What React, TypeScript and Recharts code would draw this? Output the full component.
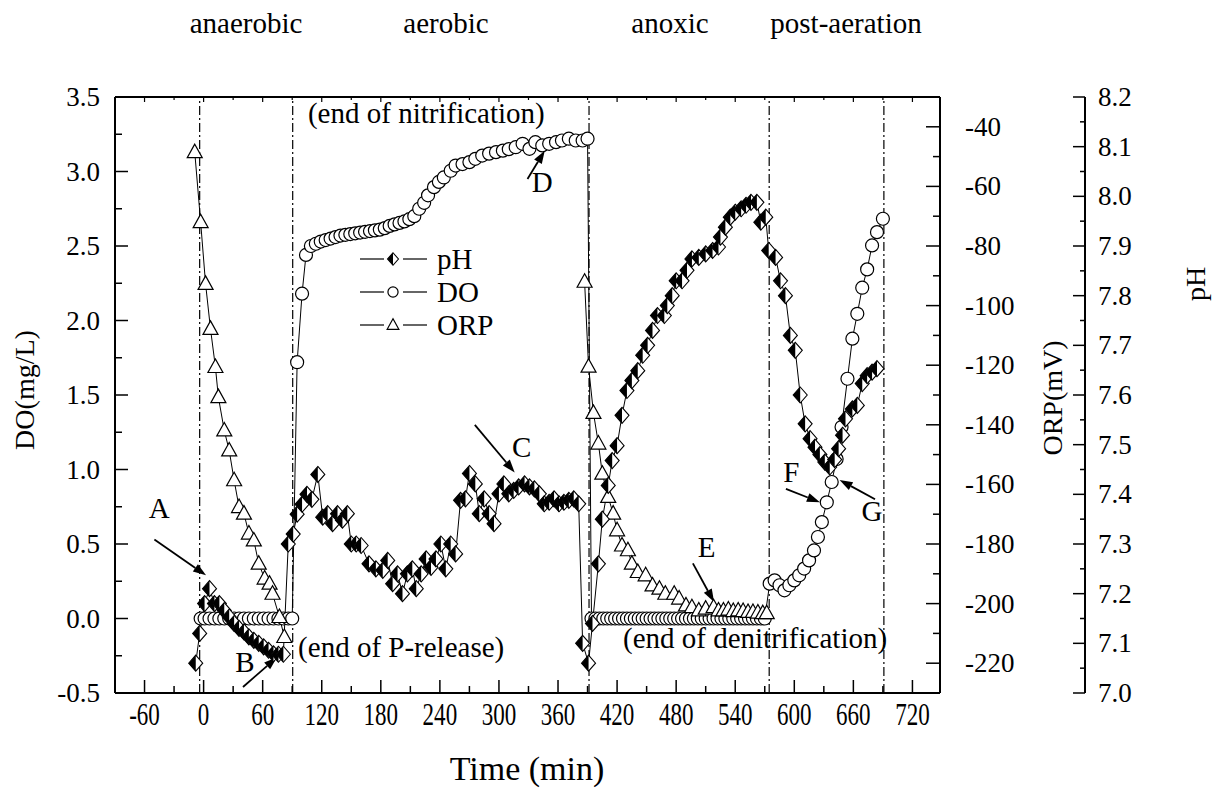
import React from 'react';
import { LineChart, Line, XAxis, YAxis, ReferenceLine, ReferenceDot } from 'recharts';

const SERIF = "'Liberation Serif', 'Times New Roman', Times, serif";

// ---------- data (time in min) ----------
const phaseNames = ['anaerobic', 'aerobic', 'anoxic', 'post-aeration'];
const phaseBoundaries = [-4, 90.5, 391.5, 574.5, 691];

const doSeries: [number, number][] = [
  [-3, 0], [1, 0], [6, 0], [11, 0], [16, 0], [21, 0], [26, 0], [31, 0], [36, 0], [41, 0],
  [46, 0], [51, 0], [56, 0], [61, 0], [66, 0], [71, 0], [76, 0], [81, 0], [86, 0], [90, 0],
  [95, 1.72], [100, 2.18], [104, 2.44], [109, 2.5], [114, 2.515], [119, 2.53], [124, 2.54],
  [129, 2.55], [134, 2.56], [139, 2.57], [144, 2.575], [149, 2.58], [154, 2.585], [159, 2.59],
  [164, 2.595], [169, 2.6], [174, 2.605], [179, 2.61], [184, 2.62], [189, 2.635], [194, 2.645],
  [199, 2.655], [204, 2.665], [209, 2.68], [214, 2.7], [219, 2.75], [224, 2.79], [228, 2.84],
  [234, 2.895], [239, 2.93], [244, 2.96], [251, 3.005], [256, 3.04], [263, 3.05], [270, 3.063],
  [276, 3.085], [283, 3.107], [290, 3.12], [297, 3.13], [304, 3.14], [310, 3.15], [317, 3.163],
  [324, 3.186], [331, 3.152], [337, 3.197], [344, 3.175], [351, 3.186], [358, 3.197], [364, 3.208],
  [371, 3.22], [378, 3.208], [385, 3.208], [390, 3.22],
  [394, 0], [398, 0], [402, 0], [406, 0], [410, 0], [414, 0], [418, 0], [422, 0], [426, 0],
  [430, 0], [434, 0], [438, 0], [442, 0], [446, 0], [450, 0], [454, 0], [458, 0], [462, 0],
  [466, 0], [470, 0], [474, 0], [478, 0], [482, 0], [486, 0], [490, 0], [494, 0], [498, 0],
  [502, 0], [506, 0], [510, 0], [514, 0], [518, 0], [522, 0], [526, 0], [530, 0], [534, 0],
  [538, 0], [542, 0], [546, 0], [550, 0], [554, 0], [558, 0], [562, 0], [566, 0], [570, 0],
  [575, 0.234], [580, 0.256], [585, 0.223], [590, 0.189], [595, 0.223], [600, 0.256], [605, 0.29],
  [610, 0.335], [615, 0.39], [620, 0.457], [624, 0.547], [628, 0.647], [633, 0.78], [638, 0.916],
  [643, 1.07], [648, 1.285], [654, 1.609], [659, 1.878], [664, 2.045], [669, 2.22], [674, 2.343],
  [679, 2.504], [684, 2.593], [690, 2.683],
];

const orpSeries: [number, number | null][] = [
  [-9, -48.5], [-3, -72], [2, -92.7], [7, -107.8], [12, -120.6], [15, -130.7], [21, -141.9],
  [26, -148.6], [31, -158.6], [36, -167.6], [41, -169.8], [46, -176.5], [51, -178.8], [56, -186.6],
  [62, -191.6], [67, -193.3], [70, -196.7], [77, -204.5], [82, -211.2],
  [240, null],
  [387, -92], [391, -120.5], [396, -136], [401, -146.3], [405, -156.4], [411, -164.2], [416, -169.8],
  [420, -175.4], [425, -180.5], [431, -182.1], [435, -186.6], [441, -189.4], [449, -190.5],
  [456, -193.9], [463, -195], [469, -196.7], [478, -196.7], [483, -198.3], [490, -200.6],
  [496, -201.2], [503, -202.3], [510, -201.7], [518, -201.2], [523, -202.3], [528, -202.3],
  [533, -202], [538, -202.5], [543, -202.3], [548, -202.5], [553, -202.8], [558, -202.8],
  [563, -203], [568, -203.2], [572, -203.2],
];

const phSeries: [number, number][] = [
  [-8, 7.06], [-4, 7.12], [1, 7.18], [6, 7.21], [11, 7.18], [16, 7.18], [21, 7.166], [26, 7.153],
  [31, 7.14], [36, 7.13], [41, 7.123], [46, 7.113], [51, 7.106], [56, 7.1], [61, 7.093], [66, 7.086],
  [71, 7.079], [76, 7.078], [81, 7.078], [86, 7.3], [91, 7.32], [95, 7.36], [100, 7.38], [105, 7.4],
  [110, 7.39], [116, 7.44], [121, 7.354], [126, 7.361], [131, 7.341], [136, 7.361], [141, 7.348],
  [146, 7.361], [150, 7.3], [155, 7.3], [160, 7.297], [168, 7.26], [175, 7.25], [182, 7.247],
  [187, 7.267], [192, 7.22], [197, 7.24], [202, 7.2], [207, 7.24], [212, 7.25], [216, 7.21],
  [221, 7.24], [226, 7.27], [231, 7.253], [236, 7.27], [241, 7.3], [246, 7.25], [251, 7.3],
  [256, 7.28], [261, 7.388], [266, 7.391], [270, 7.442], [276, 7.421], [280, 7.361], [285, 7.391],
  [290, 7.361], [295, 7.341], [300, 7.401], [305, 7.421], [310, 7.401], [315, 7.408], [320, 7.415],
  [326, 7.421], [331, 7.415], [336, 7.411], [341, 7.401], [346, 7.381], [351, 7.384], [356, 7.391],
  [361, 7.381], [366, 7.384], [371, 7.388], [376, 7.391], [381, 7.381], [385, 7.1], [391, 7.06],
  [395, 7.14], [401, 7.26], [405, 7.35], [411, 7.418], [415, 7.468], [420, 7.498], [425, 7.559],
  [430, 7.609], [435, 7.629], [441, 7.649], [446, 7.68], [451, 7.7], [456, 7.73], [461, 7.76],
  [468, 7.76], [471, 7.78], [476, 7.8], [480, 7.83], [486, 7.83], [491, 7.851], [496, 7.874],
  [503, 7.877], [510, 7.884], [517, 7.891], [523, 7.898], [525, 7.918], [530, 7.938], [535, 7.958],
  [540, 7.968], [546, 7.975], [551, 7.982], [556, 7.988], [562, 7.988], [566, 7.948], [571, 7.958],
  [574, 7.891], [581, 7.877], [586, 7.83], [591, 7.8], [596, 7.72], [601, 7.69], [606, 7.6],
  [611, 7.542], [616, 7.512], [621, 7.495], [626, 7.48], [631, 7.465], [636, 7.455], [641, 7.47],
  [645, 7.492], [649, 7.519], [652, 7.552], [659, 7.572], [664, 7.579], [669, 7.623], [674, 7.639],
  [679, 7.646], [684, 7.653],
];

// ---------- ticks ----------
const xMajorTicks = [-60, 0, 60, 120, 180, 240, 300, 360, 420, 480, 540, 600, 660, 720];
const xTickLabels = ['-60', '0', '60', '120', '180', '240', '300', '360', '420', '480', '540', '600', '660', '720'];
const xMinorTicks = [-30, 30, 90, 150, 210, 270, 330, 390, 450, 510, 570, 630, 690];

const doMajorTicks = [-0.5, 0, 0.5, 1, 1.5, 2, 2.5, 3, 3.5];
const doTickLabels = ['-0.5', '0.0', '0.5', '1.0', '1.5', '2.0', '2.5', '3.0', '3.5'];
const doMinorTicks = [-0.25, 0.25, 0.75, 1.25, 1.75, 2.25, 2.75, 3.25];

const orpMajorTicks = [-220, -200, -180, -160, -140, -120, -100, -80, -60, -40];
const orpTickLabels = ['-220', '-200', '-180', '-160', '-140', '-120', '-100', '-80', '-60', '-40'];
const orpMinorTicks = [-210, -190, -170, -150, -130, -110, -90, -70, -50];

const phMajorTicks = [7.0, 7.1, 7.2, 7.3, 7.4, 7.5, 7.6, 7.7, 7.8, 7.9, 8.0, 8.1, 8.2];
const phTickLabels = ['7.0', '7.1', '7.2', '7.3', '7.4', '7.5', '7.6', '7.7', '7.8', '7.9', '8.0', '8.1', '8.2'];
const phMinorTicks = [7.05, 7.15, 7.25, 7.35, 7.45, 7.55, 7.65, 7.75, 7.85, 7.95, 8.05, 8.15];

// ---------- annotations (in time / DO coordinates) ----------
const noteTexts = [
  { text: 'A', t: -45, v: 0.74, anchor: 'middle' },
  { text: 'B', t: 42, v: -0.29, anchor: 'middle' },
  { text: '(end of P-release)', t: 96, v: -0.19, anchor: 'start' },
  { text: '(end of nitrification)', t: 106, v: 3.39, anchor: 'start' },
  { text: 'C', t: 323, v: 1.15, anchor: 'middle' },
  { text: 'D', t: 344, v: 2.93, anchor: 'middle' },
  { text: 'E', t: 511, v: 0.48, anchor: 'middle' },
  { text: '(end of denitrification)', t: 426, v: -0.13, anchor: 'start' },
  { text: 'F', t: 597, v: 0.98, anchor: 'middle' },
  { text: 'G', t: 679, v: 0.72, anchor: 'middle' },
];
const noteArrows = [
  { t1: -50, v1: 0.53, t2: 2.5, v2: 0.29 },
  { t1: 40, v1: -0.46, t2: 74.5, v2: -0.26 },
  { t1: 275.5, v1: 1.3, t2: 316, v2: 0.98 },
  { t1: 329, v1: 2.95, t2: 346.5, v2: 3.14 },
  { t1: 497, v1: 0.37, t2: 518.5, v2: 0.11 },
  { t1: 591.5, v1: 0.87, t2: 626, v2: 0.78 },
  { t1: 682, v1: 0.8, t2: 646, v2: 0.93 },
];

// ---------- markers ----------
const CircleMark = ({ cx, cy, s = 1 }: any) => (
  <circle cx={cx} cy={cy} r={6.5 * s} fill="#fff" stroke="#000" strokeWidth={1.2} />
);
const TriangleMark = ({ cx, cy, s = 1 }: any) => (
  <polygon
    points={`${cx},${cy - 8 * s} ${cx - 7.5 * s},${cy + 5.5 * s} ${cx + 7.5 * s},${cy + 5.5 * s}`}
    fill="#fff" stroke="#000" strokeWidth={1.2}
  />
);
const DiamondMark = ({ cx, cy, s = 1 }: any) => (
  <g>
    <polygon
      points={`${cx},${cy - 8 * s} ${cx + 7 * s},${cy} ${cx},${cy + 8 * s} ${cx - 7 * s},${cy}`}
      fill="#fff" stroke="#000" strokeWidth={1.1}
    />
    <polygon points={`${cx},${cy - 8 * s} ${cx - 7 * s},${cy} ${cx},${cy + 8 * s}`} fill="#000" />
  </g>
);

const makeDot = (Mark: any) => (p: any) => {
  if (p.cx == null || p.cy == null || p.value == null || Number.isNaN(p.cy)) return <g key={p.index} />;
  return <Mark key={p.index} cx={p.cx} cy={p.cy} />;
};

// ---------- tick renderers ----------
const tickText = { fontFamily: SERIF, fill: '#000' };

const renderBottomTick = (p: any) => {
  const v = p.payload.value;
  const i = xMajorTicks.indexOf(v);
  const major = i >= 0;
  return (
    <g>
      <line x1={p.x} y1={p.y} x2={p.x} y2={p.y - (major ? 13 : 7)} stroke="#000" strokeWidth={1.5} />
      {major && (
        <text transform={`translate(${p.x},${p.y + 21}) scale(0.72,1)`} textAnchor="middle"
          dominantBaseline="central" fontSize={32} {...tickText}>{xTickLabels[i]}</text>
      )}
    </g>
  );
};
const renderTopTick = (p: any) => {
  const major = xMajorTicks.indexOf(p.payload.value) >= 0;
  return <line x1={p.x} y1={p.y} x2={p.x} y2={p.y + (major ? 5 : 3)} stroke="#000" strokeWidth={1.2} />;
};
const renderDoTick = (p: any) => {
  const i = doMajorTicks.indexOf(p.payload.value);
  const major = i >= 0;
  return (
    <g>
      <line x1={p.x} y1={p.y} x2={p.x + (major ? 13 : 7)} y2={p.y} stroke="#000" strokeWidth={1.5} />
      {major && (
        <text x={p.x - 15} y={p.y} textAnchor="end" dominantBaseline="central" fontSize={27} {...tickText}>
          {doTickLabels[i]}
        </text>
      )}
    </g>
  );
};
const renderOrpTick = (p: any) => {
  const i = orpMajorTicks.indexOf(p.payload.value);
  const major = i >= 0;
  return (
    <g>
      <line x1={p.x} y1={p.y} x2={p.x - (major ? 14 : 7)} y2={p.y} stroke="#000" strokeWidth={1.5} />
      {major && (
        <text x={p.x + 25} y={p.y} textAnchor="start" dominantBaseline="central" fontSize={27} {...tickText}>
          {orpTickLabels[i]}
        </text>
      )}
    </g>
  );
};
const renderPhTick = (p: any) => {
  const i = phMajorTicks.indexOf(p.payload.value);
  const major = i >= 0;
  return (
    <g>
      <line x1={p.x} y1={p.y} x2={p.x - (major ? 12 : 5)} y2={p.y} stroke="#000" strokeWidth={1.5} />
      {major && (
        <text x={p.x + 13} y={p.y} textAnchor="start" dominantBaseline="central" fontSize={27} {...tickText}>
          {phTickLabels[i]}
        </text>
      )}
    </g>
  );
};

const ArrowShape = (p: any) => {
  const { x1, y1, x2, y2 } = p;
  const dx = x2 - x1;
  const dy = y2 - y1;
  const L = Math.hypot(dx, dy) || 1;
  const ux = dx / L;
  const uy = dy / L;
  const hl = 13;
  const hw = 4.5;
  const bx = x2 - ux * hl;
  const by = y2 - uy * hl;
  return (
    <g>
      <line x1={x1} y1={y1} x2={bx} y2={by} stroke="#000" strokeWidth={1.8} />
      <polygon points={`${x2},${y2} ${bx - uy * hw},${by + ux * hw} ${bx + uy * hw},${by - ux * hw}`} fill="#000" />
    </g>
  );
};

const axisLineStyle = { stroke: '#000', strokeWidth: 2 };

export default function App() {
  const doData = doSeries.map(([t, v]) => ({ t, v }));
  const orpData = orpSeries.map(([t, v]) => ({ t, v }));
  const phData = phSeries.map(([t, v]) => ({ t, v }));

  const phaseCenters = [246, 446, 670, 846];
  const legendRows = [
    { label: 'pH', Mark: DiamondMark, y: 259 },
    { label: 'DO', Mark: CircleMark, y: 292 },
    { label: 'ORP', Mark: TriangleMark, y: 325 },
  ];

  return (
    <div style={{ position: 'absolute', left: 0, top: 0, width: 1226, height: 796, background: '#fff' }}>
      <LineChart width={1226} height={796} margin={{ top: 96, right: 140, bottom: 102, left: 114 }}>
        <XAxis xAxisId="bottom" type="number" dataKey="t" domain={[-90, 748]} allowDataOverflow
          ticks={[...xMajorTicks, ...xMinorTicks]} interval={0} height={1} tickSize={0} tickMargin={0}
          tickLine={false} axisLine={axisLineStyle} tick={renderBottomTick} />
        <XAxis xAxisId="top" orientation="top" type="number" dataKey="t" domain={[-90, 748]} allowDataOverflow
          ticks={[...xMajorTicks, ...xMinorTicks]} interval={0} height={1} tickSize={0} tickMargin={0}
          tickLine={false} axisLine={axisLineStyle} tick={renderTopTick} />
        <YAxis yAxisId="do" orientation="left" type="number" domain={[-0.5, 3.5]} allowDataOverflow
          ticks={[...doMajorTicks, ...doMinorTicks]} interval={0} width={1} tickSize={0} tickMargin={0}
          tickLine={false} axisLine={axisLineStyle} tick={renderDoTick} />
        <YAxis yAxisId="orp" orientation="right" type="number" domain={[-230, -30]} allowDataOverflow
          ticks={[...orpMajorTicks, ...orpMinorTicks]} interval={0} width={145} tickSize={0} tickMargin={0}
          tickLine={false} axisLine={axisLineStyle} tick={renderOrpTick} />
        <YAxis yAxisId="ph" orientation="right" type="number" domain={[7.0, 8.2]} allowDataOverflow
          ticks={[...phMajorTicks, ...phMinorTicks]} interval={0} width={1} tickSize={0} tickMargin={0}
          tickLine={false} axisLine={axisLineStyle} tick={renderPhTick} />

        {phaseBoundaries.map((b) => (
          <ReferenceLine key={`pb${b}`} xAxisId="bottom" yAxisId="do" x={b} stroke="#000"
            strokeWidth={1.2} strokeDasharray="9 3 2 3" />
        ))}

        <Line xAxisId="bottom" yAxisId="do" data={doData} dataKey="v" name="DO" stroke="#000"
          strokeWidth={1} dot={makeDot(CircleMark)} activeDot={false} isAnimationActive={false} />
        <Line xAxisId="bottom" yAxisId="orp" data={orpData} dataKey="v" name="ORP" stroke="#000"
          strokeWidth={1} dot={makeDot(TriangleMark)} activeDot={false} isAnimationActive={false} />
        <Line xAxisId="bottom" yAxisId="ph" data={phData} dataKey="v" name="pH" stroke="#000"
          strokeWidth={1} dot={makeDot(DiamondMark)} activeDot={false} isAnimationActive={false} />

        {noteArrows.map((a, i) => (
          <ReferenceLine key={`ar${i}`} xAxisId="bottom" yAxisId="do"
            segment={[{ x: a.t1, y: a.v1 }, { x: a.t2, y: a.v2 }]} shape={ArrowShape} />
        ))}
        {noteTexts.map((n, i) => (
          <ReferenceDot key={`nt${i}`} xAxisId="bottom" yAxisId="do" x={n.t} y={n.v} r={0}
            shape={(p: any) => (
              <text x={p.cx} y={p.cy} textAnchor={n.anchor as any} dominantBaseline="central"
                fontSize={29} fontFamily={SERIF} fill="#000">{n.text}</text>
            )} />
        ))}
      </LineChart>

      <svg width={1226} height={796} style={{ position: 'absolute', left: 0, top: 0, pointerEvents: 'none' }}>
        {phaseNames.map((name, i) => (
          <text key={name} x={phaseCenters[i]} y={23} textAnchor="middle" dominantBaseline="central"
            fontSize={29} fontFamily={SERIF} fill="#000">{name}</text>
        ))}
        <text transform="translate(24,390) rotate(-90)" textAnchor="middle" dominantBaseline="central"
          fontSize={28} fontFamily={SERIF} fill="#000">DO(mg/L)</text>
        <text transform="translate(1052,398) rotate(-90)" textAnchor="middle" dominantBaseline="central"
          fontSize={28} fontFamily={SERIF} fill="#000">ORP(mV)</text>
        <text transform="translate(1195,284) rotate(-90)" textAnchor="middle" dominantBaseline="central"
          fontSize={28} fontFamily={SERIF} fill="#000">pH</text>
        <text x={527} y={768} textAnchor="middle" dominantBaseline="central" fontSize={34}
          fontFamily={SERIF} fill="#000">Time (min)</text>
        {legendRows.map((r) => (
          <g key={r.label}>
            <line x1={360} y1={r.y} x2={384} y2={r.y} stroke="#000" strokeWidth={1.2} />
            <r.Mark cx={393} cy={r.y} s={0.78} />
            <line x1={403} y1={r.y} x2={427} y2={r.y} stroke="#000" strokeWidth={1.2} />
            <text x={437} y={r.y} dominantBaseline="central" fontSize={29} fontFamily={SERIF} fill="#000">
              {r.label}
            </text>
          </g>
        ))}
      </svg>
    </div>
  );
}
